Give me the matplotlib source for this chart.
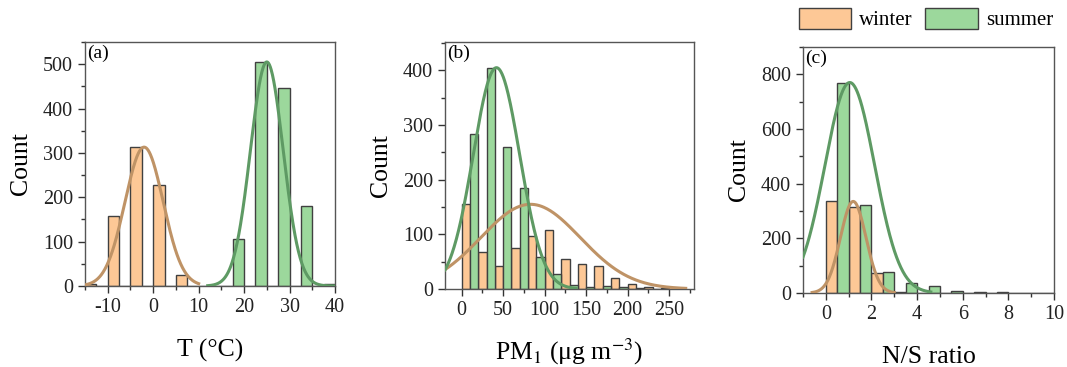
import numpy as np
import matplotlib
matplotlib.use("Agg")
import matplotlib.pyplot as plt
from matplotlib.ticker import MultipleLocator
from matplotlib.patches import Patch

plt.rcParams['font.family'] = ['Liberation Serif', 'DejaVu Serif']
plt.rcParams['mathtext.fontset'] = 'stix'
plt.rcParams['axes.unicode_minus'] = False

# ---- data ----
# (a) temperature, bins of 5 degC
t_bins = [-15, -10, -5, 0, 5, 10, 15, 20, 25, 30, 35]
t_winter = [4, 157, 313, 228, 25, 0, 0, 0, 0, 0, 0]
t_summer = [0, 0, 0, 0, 0, 0, 105, 505, 447, 180, 5]
t_fit_winter = (313, -2.0, 4.2, -15, 10)   # amp, mean, sigma, x from, x to
t_fit_summer = (505, 25.0, 3.6, 12, 40)

# (b) PM1, bins of 20 ug/m3
pm_bins = [0, 20, 40, 60, 80, 100, 120, 140, 160, 180, 200, 220, 240]
pm_winter = [155, 67, 43, 75, 97, 108, 55, 46, 43, 21, 9, 4, 1]
pm_summer = [283, 405, 260, 185, 58, 28, 8, 4, 6, 3, 1, 0, 0]
pm_fit_winter = (155, 83, 60, -20, 270)
pm_fit_summer = (405, 42, 28, -20, 138)

# (c) N/S ratio, bins of 1
ns_bins = [0, 1, 2, 3, 4, 5, 6, 7, 8, 9]
ns_winter = [338, 315, 72, 3, 0, 0, 0, 0, 0, 0]
ns_summer = [767, 322, 77, 37, 25, 8, 5, 2, 1, 1]
ns_fit_winter = (335, 1.2, 0.56, -0.6, 3.0)
ns_fit_summer = (770, 1.05, 1.09, -1, 4.6)

c_winter = '#FDC896'
c_summer = '#9CD89C'
line_winter = '#BF9366'
line_summer = '#5E9A64'
edge = '#404040'

fig = plt.figure(figsize=(10.67, 3.67), dpi=100)
W, H = 1067, 367

def make_ax(l, t, r, b):
    return fig.add_axes([l / W, 1 - b / H, (r - l) / W, (b - t) / H])

def panel(ax, bins, winter, summer, width, fw, fs, xlim, ylim, xmaj, xmin, ymaj, ymin, tag, xlabel, xpad):
    bins = np.array(bins, dtype=float)
    ax.bar(bins, winter, width=width / 2, align='edge', color=c_winter,
           edgecolor=edge, linewidth=1.0, zorder=2)
    ax.bar(bins + width / 2, summer, width=width / 2, align='edge', color=c_summer,
           edgecolor=edge, linewidth=1.0, zorder=2)
    for (a, m, s, x0, x1), col in ((fw, line_winter), (fs, line_summer)):
        x = np.linspace(x0, x1, 300)
        ax.plot(x, a * np.exp(-(x - m) ** 2 / (2 * s ** 2)), color=col, lw=2.2, zorder=3)
    ax.set_xlim(*xlim)
    ax.set_ylim(*ylim)
    ax.xaxis.set_major_locator(MultipleLocator(xmaj))
    ax.xaxis.set_minor_locator(MultipleLocator(xmin))
    ax.yaxis.set_major_locator(MultipleLocator(ymaj))
    ax.yaxis.set_minor_locator(MultipleLocator(ymin))
    ax.tick_params(which='major', direction='out', length=5, width=1, labelsize=14.5,
                   color='#333333', labelcolor='#222222')
    ax.tick_params(which='minor', direction='out', length=3, width=1, color='#333333')
    for sp in ax.spines.values():
        sp.set_color('#555555')
        sp.set_linewidth(1.0)
    ax.set_ylabel('Count', fontsize=18.5, labelpad=8)
    ax.set_xlabel(xlabel, fontsize=18.5, labelpad=xpad)
    ax.text(0.01, 0.99, tag, transform=ax.transAxes, ha='left', va='top', fontsize=14)

ax1 = make_ax(85, 42, 335, 286)
panel(ax1, t_bins, t_winter, t_summer, 5, t_fit_winter, t_fit_summer,
      (-15, 40), (0, 550), 10, 5, 100, 50, '(a)', 'T (°C)', 16)

ax2 = make_ax(445, 42, 694, 289)
panel(ax2, pm_bins, pm_winter, pm_summer, 20, pm_fit_winter, pm_fit_summer,
      (-20, 280), (0, 452), 50, 25, 100, 50, '(b)', r'PM$_1$ (μg m$^{-3}$)', 12)

ax3 = make_ax(803, 47, 1054, 293)
panel(ax3, ns_bins, ns_winter, ns_summer, 1, ns_fit_winter, ns_fit_summer,
      (-1, 10), (0, 900), 2, 1, 200, 100, '(c)', 'N/S ratio', 16)

handles = [Patch(facecolor=c_winter, edgecolor=edge, linewidth=1.0, label='winter'),
           Patch(facecolor=c_summer, edgecolor=edge, linewidth=1.0, label='summer')]
fig.legend(handles=handles, loc='center', bbox_to_anchor=(926 / W, 1 - 19 / H),
           ncol=2, frameon=False, fontsize=15, handlelength=2.5, handleheight=1.2,
           handletextpad=0.4, columnspacing=0.6, borderpad=0)

fig.savefig('out.png', dpi=100)
